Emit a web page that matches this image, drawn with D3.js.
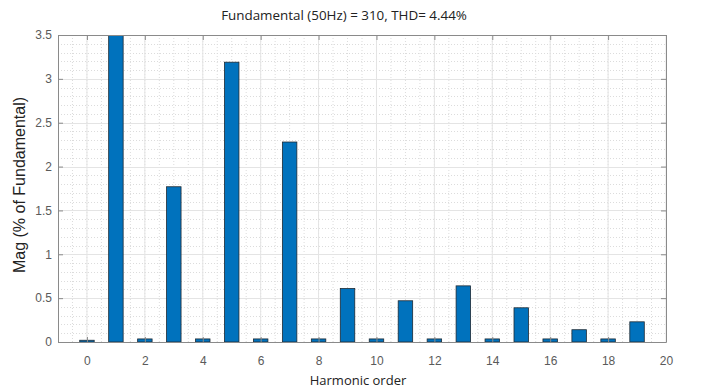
<!DOCTYPE html>
<html>
<head>
<meta charset="utf-8">
<script src="https://cdn.jsdelivr.net/npm/d3@7"></script>
<style>
  body { margin: 0; background: #fff; }
  svg { display: block; }
</style>
</head>
<body>
<svg id="chart" width="701" height="390"></svg>
<script>
// harmonic spectrum, % of fundamental (order 1 is the fundamental itself)
const orders = d3.range(0, 20)
const mags = [0.02, 100, 0.035, 1.77, 0.035, 3.19, 0.035, 2.28, 0.035, 0.61,
              0.035, 0.47, 0.035, 0.64, 0.035, 0.39, 0.035, 0.14, 0.035, 0.23]
const xTicks = d3.range(0, 21, 2)
const yTicks = [0, 0.5, 1, 1.5, 2, 2.5, 3, 3.5]
const title = 'Fundamental (50Hz) = 310, THD= 4.44%'

const margin = { left: 58, top: 35, right: 35, bottom: 48 }
const width = 701 - margin.left - margin.right
const height = 390 - margin.top - margin.bottom

let svg = d3.select('#chart')
let g = svg.append('g').attr('transform', 'translate(' + margin.left + ',' + margin.top + ')')

let xScale = d3.scaleLinear().domain([-1, 20]).range([0, width])
let yScale = d3.scaleLinear().domain([0, 3.5]).range([height, 0])

// minor grid
g.append('g').selectAll('line').data(d3.range(-0.5, 20, 0.5)).enter().append('line')
    .attr('x1', d => xScale(d)).attr('x2', d => xScale(d))
    .attr('y1', 0).attr('y2', height)
    .attr('stroke', '#dcdcdc').attr('stroke-width', 1).attr('stroke-dasharray', '1,2')
g.append('g').selectAll('line').data(d3.range(0.1, 3.5, 0.1)).enter().append('line')
    .attr('x1', 0).attr('x2', width)
    .attr('y1', d => Math.round(yScale(d)) + 0.5).attr('y2', d => Math.round(yScale(d)) + 0.5)
    .attr('stroke', '#dcdcdc').attr('stroke-width', 1).attr('stroke-dasharray', '1,2')
// major grid
g.append('g').selectAll('line').data(xTicks).enter().append('line')
    .attr('x1', d => xScale(d)).attr('x2', d => xScale(d))
    .attr('y1', 0).attr('y2', height)
    .attr('stroke', '#e4e4e4').attr('stroke-width', 1)
g.append('g').selectAll('line').data(yTicks).enter().append('line')
    .attr('x1', 0).attr('x2', width)
    .attr('y1', d => Math.round(yScale(d)) + 0.5).attr('y2', d => Math.round(yScale(d)) + 0.5)
    .attr('stroke', '#e4e4e4').attr('stroke-width', 1)

// bars (clipped to the axes box)
svg.append('clipPath').attr('id', 'plot-clip')
    .append('rect').attr('width', width).attr('height', height)
let bw = xScale(0.5) - xScale(0)
g.append('g').attr('clip-path', 'url(#plot-clip)')
    .selectAll('rect').data(orders).enter().append('rect')
    .attr('x', d => xScale(d) - bw / 2)
    .attr('y', (d, i) => yScale(mags[i]))
    .attr('width', bw)
    .attr('height', (d, i) => height - yScale(mags[i]))
    .attr('fill', '#0072bd')
    .attr('stroke', '#1f2a33')
    .attr('stroke-width', 0.8)

// axes with inward ticks, on all four sides
let axisColor = '#8a8a8a'
let xAxis = g.append('g').attr('transform', 'translate(0,' + height + ')')
    .call(d3.axisBottom(xScale).tickValues(xTicks).tickSizeInner(-5).tickSizeOuter(0).tickPadding(14))
let xTop = g.append('g')
    .call(d3.axisTop(xScale).tickValues(xTicks).tickSizeInner(-5).tickSizeOuter(0).tickFormat(''))
let yAxis = g.append('g')
    .call(d3.axisLeft(yScale).tickValues(yTicks).tickSizeInner(-5).tickSizeOuter(0).tickPadding(6)
        .tickFormat(d => String(d)))
let yRight = g.append('g').attr('transform', 'translate(' + width + ',0)')
    .call(d3.axisRight(yScale).tickValues(yTicks).tickSizeInner(-5).tickSizeOuter(0).tickFormat(''))
;[xAxis, xTop, yAxis, yRight].forEach(a => {
    a.select('.domain').attr('stroke', axisColor)
    a.selectAll('.tick line').attr('stroke', axisColor)
    a.selectAll('text').attr('fill', '#5a5a5a').attr('font-size', 12)
        .attr('font-family', 'Liberation Sans, Arial, sans-serif')
})

// titles
svg.append('text').attr('x', 344).attr('y', 20).attr('text-anchor', 'middle')
    .attr('font-family', 'Open Sans, sans-serif').attr('font-size', 13.4).attr('fill', '#222')
    .text(title)
svg.append('text').attr('x', 358).attr('y', 385).attr('text-anchor', 'middle')
    .attr('font-family', 'Open Sans, sans-serif').attr('font-size', 13).attr('fill', '#222')
    .text('Harmonic order')
svg.append('text').attr('transform', 'translate(25,' + 185 + ') rotate(-90)')
    .attr('text-anchor', 'middle')
    .attr('font-family', 'Liberation Sans, Arial, sans-serif').attr('font-size', 16).attr('fill', '#222')
    .text('Mag (% of Fundamental)')
</script>
</body>
</html>
